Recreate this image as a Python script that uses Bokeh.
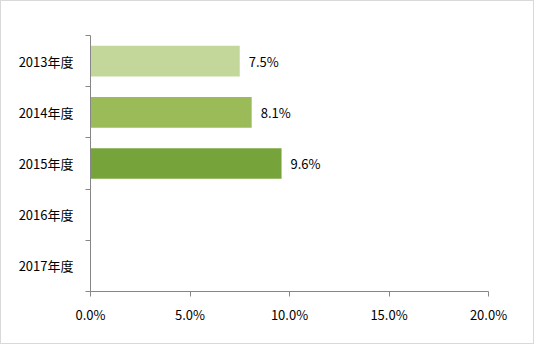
from bokeh.plotting import figure
from bokeh.models import FixedTicker, Range1d, ColumnDataSource
from bokeh.core.properties import value
from bokeh.embed import file_html
from bokeh.resources import INLINE

years = ["2013年度", "2014年度", "2015年度", "2016年度", "2017年度"]
rates = [7.5, 8.1, 9.6, None, None]
bar_colors = ["#C4D79B", "#9BBB59", "#77A43A", "#77A43A", "#77A43A"]
x_ticks = [0, 5, 10, 15, 20]
x_tick_labels = ["0.0%", "5.0%", "10.0%", "15.0%", "20.0%"]

FONT = "Noto Sans CJK JP"

pos = [i + 0.5 for i in range(len(years))]
bars = [(p_, v, c) for p_, v, c in zip(pos, rates, bar_colors) if v is not None]
src = ColumnDataSource(dict(
    y=[b[0] for b in bars],
    right=[b[1] for b in bars],
    color=[b[2] for b in bars],
    label=[f"{b[1]:.1f}%" for b in bars],
))

p = figure(width=534, height=344, output_backend="svg", toolbar_location=None,
           x_range=Range1d(0, 20), y_range=Range1d(len(years), 0),
           min_border_left=89, min_border_right=47, min_border_top=34, min_border_bottom=54)
p.styles = {"border": "1px solid #D9D9D9", "box-sizing": "border-box"}
p.outline_line_color = None
p.xgrid.visible = False
p.ygrid.visible = False
p.background_fill_color = "white"
p.border_fill_color = "white"

p.hbar(y="y", left=0, right="right", height=0.6, color="color", source=src, line_color=None)
p.text(x="right", y="y", text="label", source=src, x_offset=9, text_baseline="middle",
       text_align="left", text_font=value(FONT), text_font_size="13px", text_color="#000000")

# x axis
xa = p.xaxis[0]
xa.ticker = FixedTicker(ticks=x_ticks, minor_ticks=[])
xa.major_label_overrides = {t: l for t, l in zip(x_ticks, x_tick_labels)}
xa.axis_line_color = "#868686"
xa.major_tick_line_color = "#868686"
xa.major_tick_out = 5
xa.major_tick_in = 0
xa.major_label_text_font = FONT
xa.major_label_text_font_size = "13px"
xa.major_label_text_color = "#000000"
xa.major_label_standoff = 8

# y axis: labels at centers, tick marks at boundaries (minor ticks)
ya = p.yaxis[0]
ya.ticker = FixedTicker(ticks=pos, minor_ticks=list(range(len(years) + 1)))
ya.major_label_overrides = {t: l for t, l in zip(pos, years)}
ya.axis_line_color = "#868686"
ya.major_tick_line_color = None
ya.major_tick_out = 0
ya.major_tick_in = 0
ya.minor_tick_line_color = "#868686"
ya.minor_tick_out = 5
ya.minor_tick_in = 0
ya.major_label_text_font = FONT
ya.major_label_text_font_size = "13px"
ya.major_label_text_color = "#000000"
ya.major_label_standoff = 12

open("out.html", "w").write(file_html(p, INLINE))
